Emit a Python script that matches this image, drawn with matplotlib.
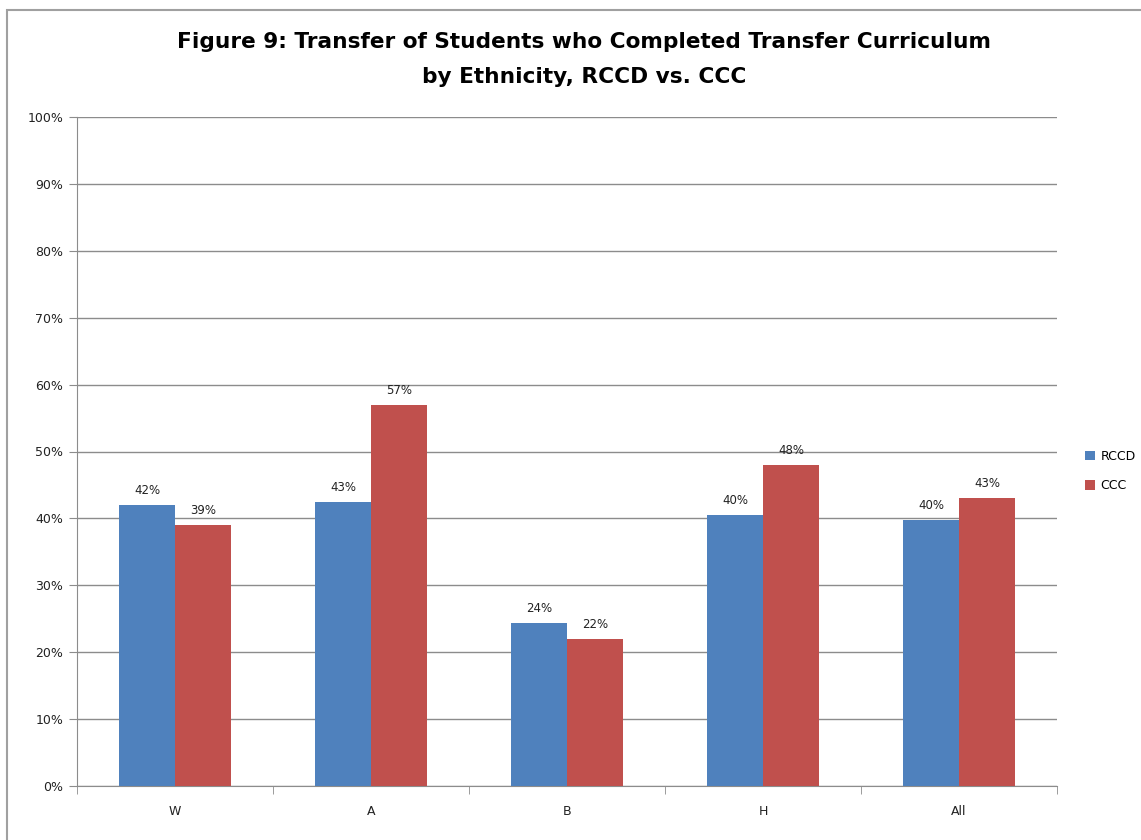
import numpy as np
import matplotlib.pyplot as plt
from matplotlib.patches import Rectangle

# data
groups = ['W', 'A', 'B', 'H', 'All']
rccd = [42.0, 42.5, 24.3, 40.5, 39.7]  # [%]
ccc = [39.0, 57.0, 22.0, 48.0, 43.1]  # [%]
rccd_lbl = ['42%', '43%', '24%', '40%', '40%']
ccc_lbl = ['39%', '57%', '22%', '48%', '43%']

blue = '#4f81bd'
red = '#c0504d'
grid_c = '#8c8c8c'

fig = plt.figure(figsize=(11.41, 8.4), dpi=100)
# chart border (cut by the image edges on the right and bottom)
fig.patches.append(Rectangle((7/1141, -0.1), 1.2, 1.1 - 10/840, transform=fig.transFigure,
                             fill=False, edgecolor='#a0a0a0', linewidth=1.5))
ax = fig.add_axes([77/1141, 54/840, 980/1141, 669/840])

x = np.arange(len(groups))
w = 0.286
b1 = ax.bar(x - w/2, rccd, w, color=blue, zorder=3)
b2 = ax.bar(x + w/2, ccc, w, color=red, zorder=3)

for rect, lbl in zip(b1, rccd_lbl):
    ax.text(rect.get_x() + rect.get_width()/2, rect.get_height() + 1.2, lbl,
            ha='center', va='bottom', fontsize=8.5, color='#222222')
for rect, lbl in zip(b2, ccc_lbl):
    ax.text(rect.get_x() + rect.get_width()/2, rect.get_height() + 1.2, lbl,
            ha='center', va='bottom', fontsize=8.5, color='#222222')

ax.set_xlim(-0.5, len(groups) - 0.5)
ax.set_ylim(0, 100)
ax.set_yticks(np.arange(0, 101, 10))
ax.set_yticklabels([f'{v}%' for v in range(0, 101, 10)], fontsize=9, color='#222222')
ax.set_xticks(x)
ax.set_xticklabels(groups, fontsize=9, color='#222222')
ax.set_xticks(np.arange(-0.5, len(groups)), minor=True)
ax.tick_params(axis='x', which='major', length=0, pad=14)
ax.tick_params(axis='x', which='minor', length=6, color=grid_c, direction='out')
ax.tick_params(axis='y', length=6, color=grid_c, direction='out', pad=4)
ax.yaxis.grid(True, color=grid_c, linewidth=1, zorder=0)
ax.set_axisbelow(True)
for s in ['top', 'right']:
    ax.spines[s].set_visible(False)
for s in ['left', 'bottom']:
    ax.spines[s].set_color(grid_c)

fig.text(584/1141, 1 - 42/840, 'Figure 9: Transfer of Students who Completed Transfer Curriculum',
         ha='center', va='center', fontsize=15.6, fontweight='bold')
fig.text(584/1141, 1 - 77/840, 'by Ethnicity, RCCD vs. CCC',
         ha='center', va='center', fontsize=15.6, fontweight='bold')

fig.legend([b1, b2], ['RCCD', 'CCC'], loc='center left', bbox_to_anchor=(1074/1141, 1 - 471/840),
           frameon=False, fontsize=9, handlelength=0.8, handleheight=0.8, labelspacing=1.3,
           handletextpad=0.4)

fig.savefig('out.png', dpi=100)
